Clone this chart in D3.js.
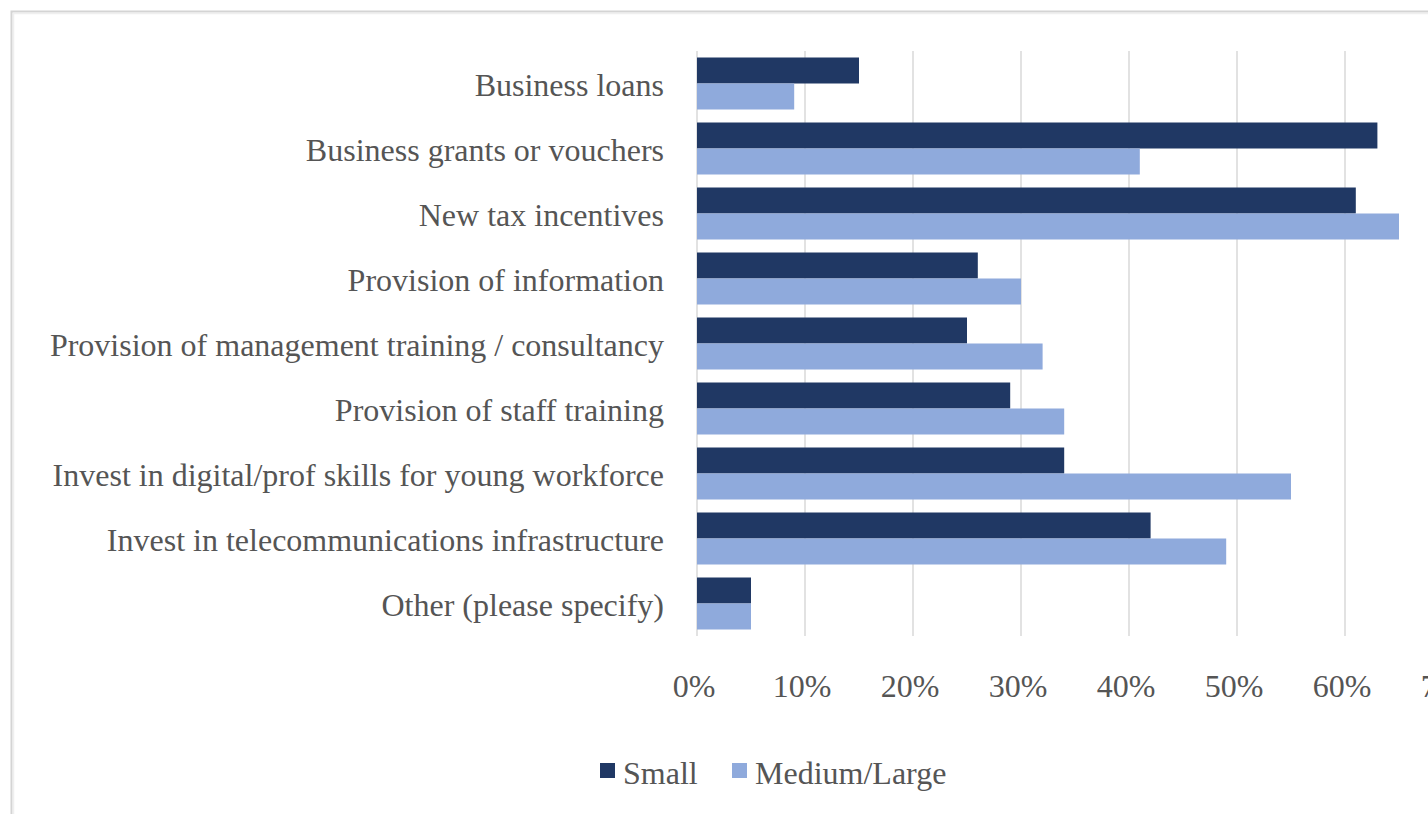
<!DOCTYPE html>
<html>

<head>
  <meta charset="utf-8" />
  <title>Support measures by firm size</title>
  <style>
    body {
      margin: 0;
      background: #fff;
      overflow: hidden;
    }

    svg {
      display: block;
      font-family: "Liberation Serif", "Times New Roman", serif;
    }

    .grid line {
      stroke: #d9d9d9;
      stroke-width: 1.5px;
    }

    .label {
      fill: #555555;
      font-size: 32px;
    }
  </style>
</head>

<body>
  <svg></svg>

  <script src="https://d3js.org/d3.v7.min.js"></script>
  <script>
    var categories = [
      "Business loans",
      "Business grants or vouchers",
      "New tax incentives",
      "Provision of information",
      "Provision of management training / consultancy",
      "Provision of staff training",
      "Invest in digital/prof skills for young workforce",
      "Invest in telecommunications infrastructure",
      "Other (please specify)"
    ];
    var seriesNames = ["Small", "Medium/Large"];
    var small = [15, 63, 61, 26, 25, 29, 34, 42, 5];
    var mediumLarge = [9, 41, 65, 30, 32, 34, 55, 49, 5];
    var ticks = [0, 10, 20, 30, 40, 50, 60, 70];
    var colors = ["#203864", "#8faadc"];

    var width = 1428,
      height = 814;
    var svg = d3.select("svg")
      .attr("width", width)
      .attr("height", height);

    // chart frame (cropped on the right and bottom)
    svg.append("rect")
      .attr("x", 11.5).attr("y", 11.5)
      .attr("width", width + 20).attr("height", height + 20)
      .attr("fill", "none")
      .attr("stroke", "#d4d4d4")
      .attr("stroke-width", 2);
    svg.append("rect")
      .attr("x", 13.5).attr("y", 13.5)
      .attr("width", width + 20).attr("height", height + 20)
      .attr("fill", "none")
      .attr("stroke", "#efefef")
      .attr("stroke-width", 1.5);

    var x = d3.scaleLinear().domain([0, 70]).range([697, 1453]);
    var y = d3.scaleBand().domain(categories).range([51, 636])
      .paddingInner(0.2).paddingOuter(0.1);
    var y1 = d3.scaleBand().domain(seriesNames).range([0, y.bandwidth()]);

    var table = categories.map(function (c, i) {
      return { cat: c, values: [small[i], mediumLarge[i]] };
    });

    // gridlines
    svg.append("g")
      .attr("class", "grid")
      .selectAll("line")
      .data(ticks)
      .enter()
      .append("line")
      .attr("x1", d => x(d)).attr("x2", d => x(d))
      .attr("y1", y.range()[0]).attr("y2", y.range()[1]);

    // bars
    var groups = svg.append("g")
      .selectAll("g")
      .data(table)
      .enter()
      .append("g")
      .attr("transform", d => "translate(0," + y(d.cat) + ")");

    groups.selectAll("rect")
      .data(d => d.values.map((v, j) => ({ key: seriesNames[j], value: v, j: j })))
      .enter()
      .append("rect")
      .attr("x", x(0))
      .attr("y", d => y1(d.key))
      .attr("width", d => x(d.value) - x(0))
      .attr("height", y1.bandwidth())
      .attr("fill", d => colors[d.j]);

    // category labels
    svg.append("g")
      .selectAll("text")
      .data(categories)
      .enter()
      .append("text")
      .attr("class", "label")
      .attr("x", 664)
      .attr("y", d => y(d) + y.bandwidth() / 2)
      .attr("dy", "0.4em")
      .attr("text-anchor", "end")
      .text(d => d);

    // x tick labels (the 70% one is cut by the right edge, as in the original)
    svg.append("g")
      .selectAll("text")
      .data(ticks)
      .enter()
      .append("text")
      .attr("class", "label")
      .attr("x", d => x(d) - 3)
      .attr("y", 697)
      .attr("text-anchor", "middle")
      .text(d => d + "%");

    // legend
    var legendX = [600, 732];
    var legend = svg.append("g")
      .selectAll("g")
      .data(seriesNames)
      .enter()
      .append("g")
      .attr("transform", (d, i) => "translate(" + legendX[i] + ",763)");
    legend.append("rect")
      .attr("width", 15).attr("height", 15)
      .attr("fill", (d, i) => colors[i]);
    legend.append("text")
      .attr("class", "label")
      .attr("x", 23)
      .attr("y", 21)
      .text(d => d);
  </script>
</body>

</html>
